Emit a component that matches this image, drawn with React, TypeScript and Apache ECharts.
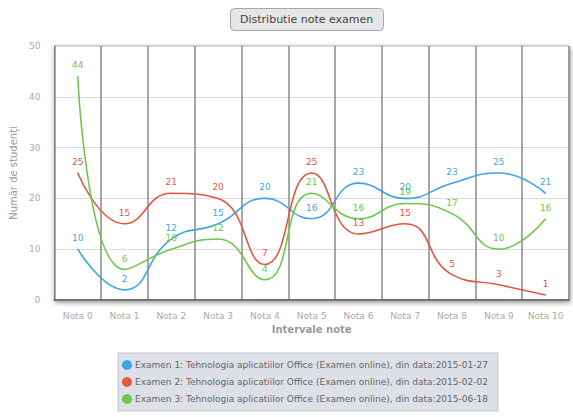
import React, { useEffect, useRef } from "react";
import * as echarts from "echarts";

const categories = ["Nota 0", "Nota 1", "Nota 2", "Nota 3", "Nota 4", "Nota 5", "Nota 6", "Nota 7", "Nota 8", "Nota 9", "Nota 10"];
const exam1 = [10, 2, 12, 15, 20, 16, 23, 20, 23, 25, 21];
const exam2 = [25, 15, 21, 20, 7, 25, 13, 15, 5, 3, 1];
const exam3 = [44, 6, 10, 12, 4, 21, 16, 19, 17, 10, 16];
const seriesNames = [
  "Examen 1: Tehnologia aplicatiilor Office (Examen online), din data:2015-01-27",
  "Examen 2: Tehnologia aplicatiilor Office (Examen online), din data:2015-02-02",
  "Examen 3: Tehnologia aplicatiilor Office (Examen online), din data:2015-06-18",
];
const colors = ["#3ea5e6", "#e5573f", "#6cc94a"];

const FONT = "DejaVu Sans";

export default function App() {
  const ref = useRef<HTMLDivElement>(null);
  useEffect(() => {
    if (!ref.current) return;
    const chart = echarts.init(ref.current, null, { renderer: "svg" });
    const mk = (name: string, data: number[], color: string) => ({
      name,
      type: "line",
      data,
      smooth: 0.5,
      symbol: "circle",
      symbolSize: 1,
      itemStyle: { color },
      lineStyle: { color, width: 1.6 },
      label: {
        show: true,
        position: "top",
        distance: 6,
        color,
        fontSize: 9,
        fontFamily: FONT,
      },
      emphasis: { disabled: true },
    });
    chart.setOption({
      animation: false,
      color: colors,
      textStyle: { fontFamily: FONT },
      title: {
        text: "Distributie note examen",
        left: 230,
        top: 8,
        padding: [6, 10, 6, 10],
        backgroundColor: "#e6e6e6",
        borderColor: "#a8a8a8",
        borderWidth: 1,
        borderRadius: 4,
        textStyle: { fontSize: 11, fontWeight: "normal", color: "#444", fontFamily: FONT },
      },
      legend: {
        orient: "vertical",
        left: 118,
        top: 353,
        padding: [7, 10, 7, 4],
        itemGap: 7,
        itemWidth: 10,
        itemHeight: 10,
        icon: "circle",
        backgroundColor: "#dde0e6",
        borderColor: "#bfc4cc",
        borderWidth: 1,
        textStyle: { fontSize: 9, color: "#666", fontFamily: FONT, padding: [0, 0, 0, -2] },
        data: seriesNames,
      },
      grid: {
        left: 51,
        right: 4,
        top: 46,
        bottom: 117,
        show: true,
        backgroundColor: "#ffffff",
        borderColor: "#aaaaaa",
        borderWidth: 1,
        shadowBlur: 5,
        shadowColor: "rgba(0,0,0,0.45)",
        shadowOffsetX: 1,
        shadowOffsetY: 2,
      },
      xAxis: {
        type: "category",
        data: categories,
        boundaryGap: true,
        name: "Intervale note",
        nameLocation: "middle",
        nameGap: 20,
        nameTextStyle: { fontSize: 10, fontWeight: "bold", color: "#999", fontFamily: FONT },
        axisLine: { show: true, lineStyle: { color: "#555", width: 1.5 } },
        axisTick: { show: false },
        axisLabel: { fontSize: 9, color: "#aaa", margin: 11, fontFamily: FONT },
        splitLine: { show: true, lineStyle: { color: "#8a8a8a", width: 1.5 } },
      },
      yAxis: {
        type: "value",
        min: 0,
        max: 50,
        interval: 10,
        name: "Număr de studenți",
        nameLocation: "middle",
        nameGap: 31,
        nameTextStyle: { fontSize: 10, color: "#999", fontFamily: FONT },
        axisLine: { show: true, lineStyle: { color: "#888", width: 1 } },
        axisTick: { show: false },
        axisLabel: { fontSize: 9, color: "#aaa", margin: 14, fontFamily: FONT },
        splitLine: { show: true, lineStyle: { color: "#dcdcdc", width: 1.2 } },
      },
      series: [
        mk(seriesNames[0], exam1, colors[0]),
        mk(seriesNames[1], exam2, colors[1]),
        mk(seriesNames[2], exam3, colors[2]),
      ],
    });
    return () => chart.dispose();
  }, []);
  return (
    <div
      ref={ref}
      style={{ position: "fixed", left: 0, top: 0, width: 573, height: 417, background: "#fff" }}
    />
  );
}
